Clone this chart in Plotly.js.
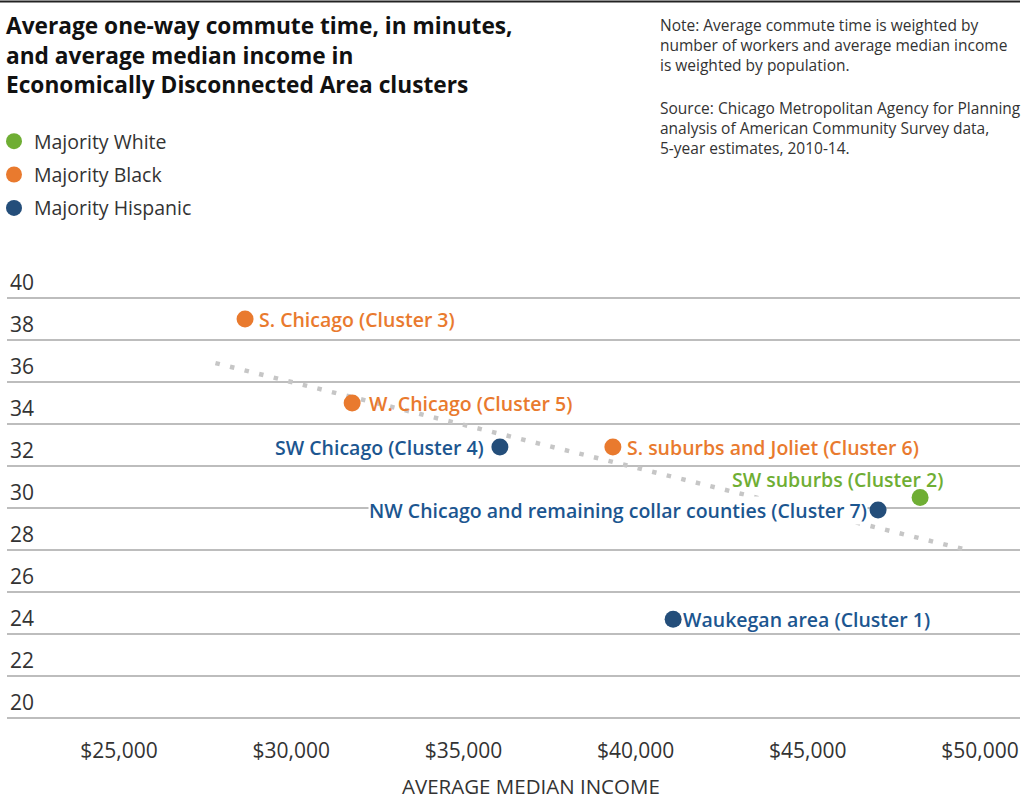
<!DOCTYPE html>
<html>
<head>
<meta charset="utf-8">
<script src="https://cdn.plot.ly/plotly-3.0.1.min.js"></script>
<style>html,body{margin:0;padding:0;background:#fff}#chart{width:1027px;height:801px}</style>
</head>
<body>
<div id="chart"></div>
<script>
// ---- data ----
const groups = ["Majority White", "Majority Black", "Majority Hispanic"];
const clusterNames = [
  "S. Chicago (Cluster 3)",
  "W. Chicago (Cluster 5)",
  "SW Chicago (Cluster 4)",
  "S. suburbs and Joliet (Cluster 6)",
  "Waukegan area (Cluster 1)",
  "NW Chicago and remaining collar counties (Cluster 7)",
  "SW suburbs (Cluster 2)"
];
const clusterGroup = ["Majority Black", "Majority Black", "Majority Hispanic", "Majority Black",
  "Majority Hispanic", "Majority Hispanic", "Majority White"];
const medianIncome = [28660, 31770, 36060, 39340, 41090, 47040, 48260];
const commuteMinutes = [39.0, 35.0, 32.9, 32.9, 24.7, 29.9, 30.5];
const trendIncome = [27800, 49500];
const trendMinutes = [36.9, 28.05];
const xTickVals = [25000, 30000, 35000, 40000, 45000, 50000];
const xTickText = ["$25,000", "$30,000", "$35,000", "$40,000", "$45,000", "$50,000"];
const yTickVals = [20, 22, 24, 26, 28, 30, 32, 34, 36, 38, 40];

// ---- styles ----
const dotColor = {"Majority White": "#6fae34", "Majority Black": "#e97a2e", "Majority Hispanic": "#244e7a"};
const textColor = {"Majority White": "#6fae34", "Majority Black": "#e97a2e", "Majority Hispanic": "#1c5690"};
const labelPlace = [
  {side: "right", dx: 13, dy: 0},
  {side: "right", dx: 16, dy: 0},
  {side: "left", dx: -15, dy: 0},
  {side: "right", dx: 13, dy: 0},
  {side: "right", dx: 9, dy: 0},
  {side: "left", dx: -10, dy: 0, bg: true},
  {side: "left", dx: 24, dy: 18}
];

const FONT = "'Open Sans', Lato, sans-serif";
const L = 7, R = 1020, T = 250, B = 727, FW = 1027, FH = 801;
const PW = R - L, PH = B - T;
const pxX = p => (p - L) / PW;
const pxY = p => (B - p) / PH;

const traces = [];
traces.push({
  x: trendIncome, y: trendMinutes, mode: "lines", type: "scatter",
  line: {color: "#c6c6c6", width: 4.5, dash: "4.5px,10.5px"},
  showlegend: false, hoverinfo: "skip"
});
groups.forEach(g => {
  const xs = [], ys = [], names = [];
  clusterGroup.forEach((cg, i) => {
    if (cg === g) { xs.push(medianIncome[i]); ys.push(commuteMinutes[i]); names.push(clusterNames[i]); }
  });
  traces.push({
    x: xs, y: ys, text: names, name: g, legendgroup: g, type: "scatter", mode: "markers",
    marker: {color: dotColor[g], size: 17},
    hovertemplate: "%{text}<br>$%{x:,}<br>%{y} min<extra></extra>"
  });
});

const annotations = clusterNames.map((n, i) => {
  const p = labelPlace[i];
  const g = clusterGroup[i];
  return {
    x: medianIncome[i], y: commuteMinutes[i], xref: "x", yref: "y",
    text: n, showarrow: false,
    xanchor: p.side === "right" ? "left" : "right", yanchor: "middle",
    xshift: p.dx, yshift: p.dy,
    bgcolor: p.bg ? "#ffffff" : "rgba(0,0,0,0)",
    borderpad: 0,
    font: {family: FONT, size: 19.5, color: textColor[g], weight: 600}
  };
});

annotations.push({
  xref: "paper", yref: "paper", x: pxX(4), y: pxY(8), xanchor: "left", yanchor: "top",
  align: "left", showarrow: false,
  text: "Average one-way commute time, in minutes,<br>and average median income in<br>Economically Disconnected Area clusters",
  font: {family: FONT, size: 22.7, color: "#111111", weight: 700}
});
annotations.push({
  xref: "paper", yref: "paper", x: pxX(658), y: pxY(12), xanchor: "left", yanchor: "top",
  align: "left", showarrow: false,
  text: "Note: Average commute time is weighted by<br>number of workers and average median income<br>is weighted by population.",
  font: {family: FONT, size: 15.5, color: "#333333"}
});
annotations.push({
  xref: "paper", yref: "paper", x: pxX(658), y: pxY(95), xanchor: "left", yanchor: "top",
  align: "left", showarrow: false,
  text: "Source: Chicago Metropolitan Agency for Planning<br>analysis of American Community Survey data,<br>5-year estimates, 2010-14.",
  font: {family: FONT, size: 15.5, color: "#333333"}
});
annotations.push({
  xref: "paper", yref: "paper", x: pxX(531), y: pxY(801), xanchor: "center", yanchor: "bottom",
  showarrow: false, text: "AVERAGE MEDIAN INCOME", borderpad: 0,
  font: {family: FONT, size: 20.5, color: "#333333"}
});

const layout = {
  width: FW, height: FH,
  margin: {l: L, r: FW - R, t: T, b: FH - B, pad: 0, autoexpand: false},
  paper_bgcolor: "#ffffff", plot_bgcolor: "#ffffff",
  font: {family: FONT, color: "#333333"},
  showlegend: true,
  legend: {
    xref: "paper", yref: "paper", x: pxX(-6), y: pxY(122), xanchor: "left", yanchor: "top",
    font: {family: FONT, size: 19.5, color: "#333333"}, traceorder: "grouped", tracegroupgap: 5,
    bgcolor: "rgba(0,0,0,0)", itemclick: false, itemdoubleclick: false
  },
  xaxis: {
    range: [21748, 51161], tickvals: xTickVals, ticktext: xTickText,
    showgrid: false, zeroline: false, showline: false, ticks: "", automargin: false,
    tickfont: {family: FONT, size: 21, color: "#333333"}, ticklabelstandoff: 9,
    fixedrange: true
  },
  yaxis: {
    range: [30 - (B - 508) / 21, 30 + (508 - T) / 21], tickvals: yTickVals,
    showgrid: true, gridcolor: "#bdbdbd", gridwidth: 1.6, zeroline: false, showline: false,
    ticks: "", ticklabelposition: "inside", ticklabelshift: -15, ticklabelstandoff: 0, automargin: false,
    tickfont: {family: FONT, size: 21, color: "#333333"}, fixedrange: true
  },
  shapes: [{
    type: "line", xref: "paper", yref: "paper", x0: pxX(0), x1: pxX(1020), y0: pxY(1.5), y1: pxY(1.5),
    line: {color: "#222222", width: 2}
  }],
  annotations: annotations
};

Plotly.newPlot("chart", traces, layout, {displayModeBar: false});
</script>
</body>
</html>
